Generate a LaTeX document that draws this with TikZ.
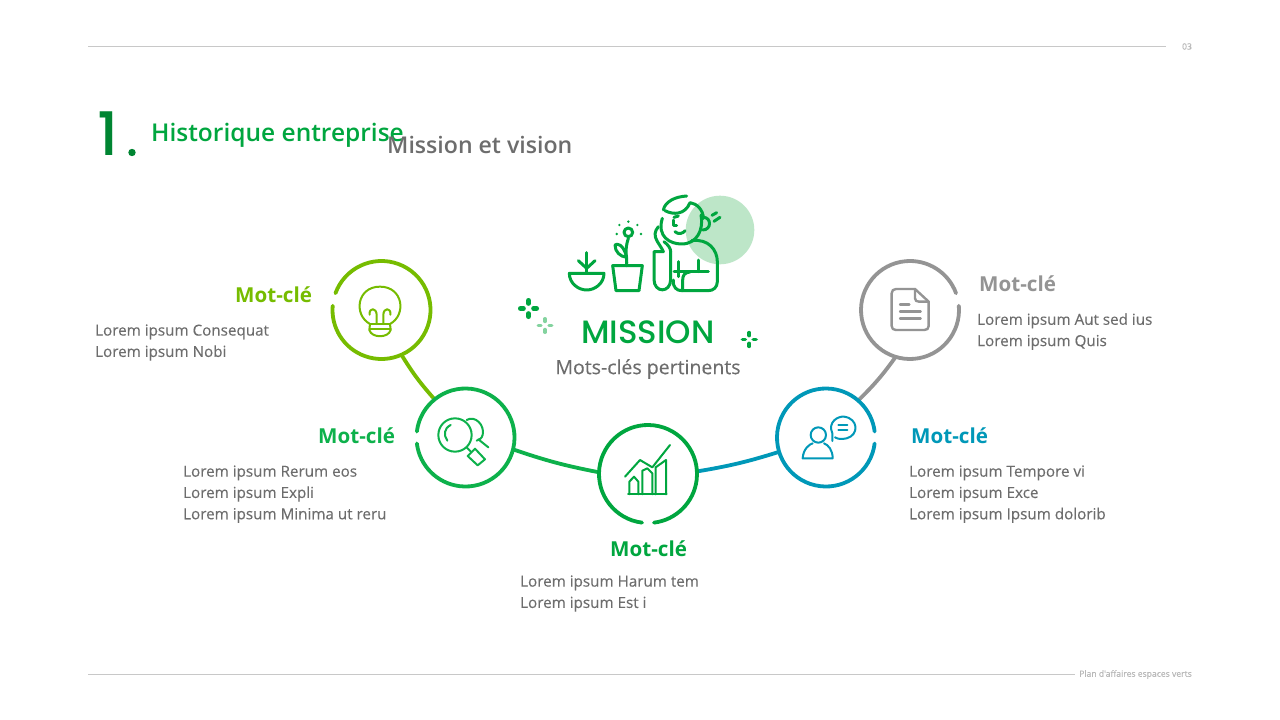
\documentclass[tikz,border=0pt]{standalone}
\usepackage{fontspec}
\setmainfont{Open Sans}
\newfontfamily\fpop{Poppins}
\newfontfamily\fpopm{Poppins Medium}
\newfontfamily\fbody[FakeBold=0.25]{Open Sans}
\newfontfamily\fstrong{Open Sans Bold}
\newfontfamily\fsemi{Open Sans Semibold}
\definecolor{limeC}{HTML}{76BC00}
\definecolor{greenB}{HTML}{0DB14B}
\definecolor{greenC}{HTML}{00A63F}
\definecolor{blueC}{HTML}{0098B8}
\definecolor{grayC}{HTML}{949494}
\definecolor{txt}{HTML}{6D6D6D}
\definecolor{pale}{HTML}{BDE6C8}
\definecolor{rulec}{HTML}{C8C8C8}
\definecolor{smallc}{HTML}{B8B8B8}
\tikzset{
 ringnode/.style={circle,minimum size=98pt,inner sep=0pt,outer sep=0pt},
 ring/.style={line width=3.8pt,line cap=round},
 link/.style={line width=3.8pt},
 icon/.style={line width=2pt,line cap=round,line join=round},
 rulel/.style={draw=rulec,line width=1pt},
 kw/.style={anchor=west,inner sep=0pt,font=\fontsize{20.6}{23}\selectfont\fstrong},
 lst/.style={anchor=west,inner sep=0pt,align=left,text=txt,font=\fontsize{15.2}{21.3}\selectfont\fbody},
 tinyt/.style={inner sep=0pt,text=smallc,font=\fontsize{8.6}{10}\selectfont\fbody},
 spark/.style={line cap=round},
}
\newcommand{\ringdraw}[4]{\draw[ring,#2] (#1.center) ++(#3:49) arc[start angle=#3,end angle=#4,radius=49];}
\newcommand{\sparkle}[6]{\draw[spark,#1,line width=#4] (#2,#3) ++(-#5,0) -- ++(#5-#6,0) (#2,#3) ++(#6,0) -- ++(#5-#6,0) (#2,#3) ++(0,-#5) -- ++(0,#5-#6) (#2,#3) ++(0,#6) -- ++(0,#5-#6);}
\begin{document}
\begin{tikzpicture}[x=1pt,y=1pt,yscale=-1]
\useasboundingbox (0,0) rectangle (1280,720);
\fill[white] (0,0) rectangle (1280,720);
% header/footer
\coordinate (h1) at (88,46); \coordinate (h2) at (1166,46);
\coordinate (f1) at (88,674); \coordinate (f2) at (1075,674);
\draw[rulel] (h1) -- (h2);
\draw[rulel] (f1) -- (f2);
\node[tinyt] (pg) at (1187,46.5) {03};
\node[tinyt,anchor=east] (foot) at (1192,674.5) {Plan d'affaires espaces verts};
% title
\node[anchor=west,inner sep=0pt,text=greenC!80!black,font=\fontsize{60}{64}\selectfont\fpopm] (one) at (97,134) {1};
\fill[greenC!80!black] (132,152.5) circle (3.7);
\node[anchor=west,inner sep=0pt,text=greenC,font=\fontsize{24.5}{28}\selectfont\fsemi] (hist) at (151,135) {Historique entreprise};
\node[anchor=west,inner sep=0pt,text=txt,font=\fontsize{23.1}{28}\selectfont\fsemi] (miss) at (387,145) {Mission et vision};
% ring nodes
\node[ringnode] (lime) at (381.5,310) {};
\node[ringnode] (grn) at (465.5,437.5) {};
\node[ringnode] (mid) at (648,474) {};
\node[ringnode] (blu) at (826,437.5) {};
\node[ringnode] (gry) at (910,310) {};
% connectors
\draw[link,limeC] (lime.-66) to[bend left=5] (grn.129);
\draw[link,greenB] (grn.-14) to[bend left=4] (mid.178);
\draw[link,blueC] (mid.3) to[bend left=4] (blu.197);
\draw[link,grayC] (gry.-107) to[bend right=5] (blu.49);
% rings
\ringdraw{lime}{limeC}{200}{545}
\ringdraw{grn}{greenB}{187}{533}
\ringdraw{mid}{greenC}{97}{443}
\ringdraw{blu}{blueC}{7}{353}
\ringdraw{gry}{grayC}{-5}{340}
% bulb icon
\begin{scope}[shift={(320,250)},scale=1/3,icon,limeC]
\draw (150,222) .. controls (100,195) and (110,110) .. (180,110) .. controls (250,110) and (260,195) .. (210,222) -- (212,240) .. controls (205,265) and (155,265) .. (148,240) -- cycle;
\draw (150,238) -- (212,238);
\draw (150,222) -- (210,222);
\draw (170,222) -- (170,195) .. controls (170,172) and (146,172) .. (149,194);
\draw (190,222) -- (190,195) .. controls (190,172) and (214,172) .. (211,194);
\end{scope}
% magnifier icon
\begin{scope}[shift={(320,250)},scale=1/3,icon,greenB]
\draw (405,555) circle (50);
\draw (382,572) .. controls (370,555) and (372,535) .. (392,525);
\draw (440,510) .. controls (465,495) and (495,525) .. (488,555) .. controls (485,565) and (478,570) .. (470,572);
\draw (440,592) -- (452,604);
\draw (443,618) -- (465,596) -- (495,628) -- (473,646) -- cycle;
\draw (475,568) -- (505,592);
\end{scope}
% chart icon
\begin{scope}[shift={(590,380)},scale=1/3,icon,greenC]
\draw (105,290) -- (150,240) -- (187,262) -- (240,195);
\draw (118,343) -- (118,305) -- (132,290) -- (145,305) -- (145,343);
\draw (157,343) -- (157,272) -- (172,265) -- (187,280) -- (187,343);
\draw (197,343) -- (197,262) -- (228,240) -- (228,343);
\draw (114,343) -- (230,343);
\end{scope}
% person icon
\begin{scope}[shift={(590,380)},scale=1/3,icon,blueC]
\draw (685,165) circle (23);
\draw (638,235) .. controls (640,205) and (660,192) .. (668,190);
\draw (702,190) .. controls (715,195) and (728,210) .. (728,235) -- (638,235);
\draw (727,183) -- (727,160) .. controls (712,125) and (745,108) .. (762,110) .. controls (805,115) and (808,165) .. (770,175) .. controls (755,178) and (745,178) .. (735,172);
\draw (745,135) -- (772,135);
\draw (745,150) -- (772,150);
\end{scope}
% doc icon
\begin{scope}[shift={(850,250)},scale=1/3,icon,grayC,line width=2.4pt]
\draw (195,117) -- (138,117) .. controls (130,117) and (125,122) .. (125,130) -- (125,228) .. controls (125,236) and (130,240) .. (138,240) -- (223,240) .. controls (231,240) and (236,236) .. (236,228) -- (236,155) -- cycle;
\draw (195,117) -- (195,145) .. controls (195,152) and (200,155) .. (207,155) -- (236,155);
\draw (150,163) -- (178,163);
\draw (150,184) -- (212,184);
\draw (150,205) -- (212,205);
\end{scope}
% mission illustration
\fill[pale] (720,230) circle (34.3);
\begin{scope}[shift={(500,180)},scale=1/3,icon,greenC,line width=3pt]
% bowl
\draw (208,280) -- (312,280) .. controls (312,310) and (285,330) .. (260,330) .. controls (235,330) and (208,310) .. (208,280) -- cycle;
\draw (260,218) -- (260,280);
\draw (235,242) -- (260,265) -- (285,242);
% pot
\draw (338,257) -- (427,257) -- (417,332) -- (348,332) -- cycle;
\draw (380,257) .. controls (382,230) and (372,215) .. (385,175);
\draw (380,232) .. controls (370,190) and (350,190) .. (345,195) .. controls (345,215) and (360,230) .. (380,232);
\draw (385,157) circle (13);
\fill (385,125) circle (4) (358,135) circle (4) (412,135) circle (4) (350,162) circle (4) (423,162) circle (4);
% vial
\draw (462,215) -- (462,298) .. controls (462,340) and (512,340) .. (512,298) -- (512,215) (462,215) -- (490,215);
% arm
\draw (490,215) .. controls (480,190) and (450,170) .. (475,140);
\draw (512,215) .. controls (512,205) and (505,195) .. (492,185);
% face
\draw (487,115) .. controls (470,170) and (510,192) .. (545,192) .. controls (590,192) and (612,150) .. (603,105);
% hat and hair
\draw (490,90) .. controls (495,65) and (525,50) .. (560,48);
\draw (495,92) .. controls (520,105) and (555,105) .. (570,68) .. controls (590,70) and (610,90) .. (610,115);
% ear
\draw (610,112) .. controls (635,112) and (635,150) .. (608,150);
\draw (636,106) -- (650,98);
\draw (642,124) -- (660,112);
% face details
\draw (522,112) -- (535,108);
\draw (520,120) -- (520,135) -- (530,135);
\draw (525,155) .. controls (535,165) and (550,160) .. (555,152);
% body
\draw (575,182) .. controls (625,175) and (652,210) .. (652,245) -- (652,305) .. controls (652,322) and (640,332) .. (625,332) -- (545,332) .. controls (530,332) and (518,322) .. (520,300);
\draw (535,245) -- (535,290);
\draw (595,240) -- (595,275);
\draw (522,275) -- (625,275);
\draw (548,332) -- (548,300) .. controls (548,285) and (555,277) .. (570,276);
\end{scope}
\sparkle{greenC}{528.5}{308.5}{4.6pt}{8.2}{5}
\sparkle{pale!70!greenC}{545}{325.5}{3.4pt}{6.8}{4}
\sparkle{greenC}{749.3}{339.5}{3.8pt}{6.8}{4}
% mission text
\node[inner sep=0pt,text=greenC,font=\fontsize{32.3}{36}\selectfont\fpopm] (mtitle) at (648,332) {MISSION};
\node[inner sep=0pt,text=txt,font=\fontsize{19.5}{23}\selectfont\fbody] (msub) at (648,369) {Mots-clés pertinents};
% labels
\node[kw,text=limeC] (k1) at (235,295) {Mot-clé};
\node[lst] (l1) at (95,342.5) {Lorem ipsum Consequat\\Lorem ipsum Nobi};
\node[kw,text=greenB] (k2) at (318,436) {Mot-clé};
\node[lst] (l2) at (183,494.2) {Lorem ipsum Rerum eos\\Lorem ipsum Expli\\Lorem ipsum Minima ut reru};
\node[kw,text=greenC] (k3) at (610,549) {Mot-clé};
\node[lst] (l3) at (520,593.5) {Lorem ipsum Harum tem\\Lorem ipsum Est i};
\node[kw,text=blueC] (k4) at (911,436) {Mot-clé};
\node[lst] (l4) at (909,494.2) {Lorem ipsum Tempore vi\\Lorem ipsum Exce\\Lorem ipsum Ipsum dolorib};
\node[kw,text=grayC] (k5) at (979,284) {Mot-clé};
\node[lst] (l5) at (977,331.5) {Lorem ipsum Aut sed ius\\Lorem ipsum Quis};
\end{tikzpicture}
\end{document}
